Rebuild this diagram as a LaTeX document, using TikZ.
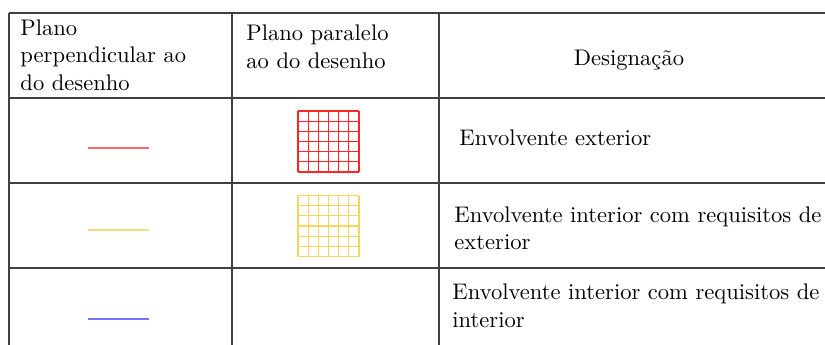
\documentclass[tikz,border=0pt]{standalone}
\definecolor{lineyellow}{RGB}{244,208,60}
\definecolor{samplered}{RGB}{255,105,105}
\definecolor{sampleyellow}{RGB}{245,222,120}
\definecolor{sampleblue}{RGB}{115,115,255}

\begin{document}
\begin{tikzpicture}
        [x=0.443pt, y=-0.443pt,
        rule/.style={black!75, line width=0.5pt},
        cell/.style={anchor=base west, align=left, inner sep=0pt, font=\normalsize},
        sample/.style={line width=0.7pt},
        gridline/.style={line width=0.5pt}]

        \useasboundingbox (0,0) rectangle (825,344);
        \clip (0,0) rectangle (825,344);

        % table rules
        \draw[rule] (9,13) -- (840,13);
        \draw[rule] (9,98) -- (840,98);
        \draw[rule] (9,183) -- (840,183);
        \draw[rule] (9,268) -- (840,268);
        \draw[rule] (9,13) -- (9,360);
        \draw[rule] (232,13) -- (232,360);
        \draw[rule] (439,13) -- (439,360);

        % header
        \node[cell] (perp) at (20,90) {Plano\\perpendicular ao\\do desenho};
        \node[cell] (para) at (246,68) {Plano paralelo\\ao do desenho};
        \node[anchor=base, inner sep=0pt] (desig) at (629,65) {Designa\c{c}\~ao};

        % designations
        \node[cell] (ext) at (459,145.5) {Envolvente exterior};
        \node[cell] (intext) at (454,249.5) {Envolvente interior com requisitos de\\exterior};
        \node[cell] (intint) at (452,327) {Envolvente interior com requisitos de\\interior};

        % perpendicular samples
        \draw[sample, samplered] (88,148) -- (149,148);
        \draw[sample, sampleyellow] (88,230) -- (149,230);
        \draw[sample, sampleblue] (88,319) -- (149,319);

        % parallel samples (grids)
        \foreach \i in {0,...,6} {
            \draw[gridline, red!85] (298+\i*10.17,111) -- (298+\i*10.17,172);
            \draw[gridline, red!85] (298,111+\i*10.17) -- (359,111+\i*10.17);
            \draw[gridline, lineyellow!85] (298+\i*10.17,195.5) -- (298+\i*10.17,256.5);
            \draw[gridline, lineyellow!85] (298,195.5+\i*10.17) -- (359,195.5+\i*10.17);
        }

        \end{tikzpicture}
\end{document}
